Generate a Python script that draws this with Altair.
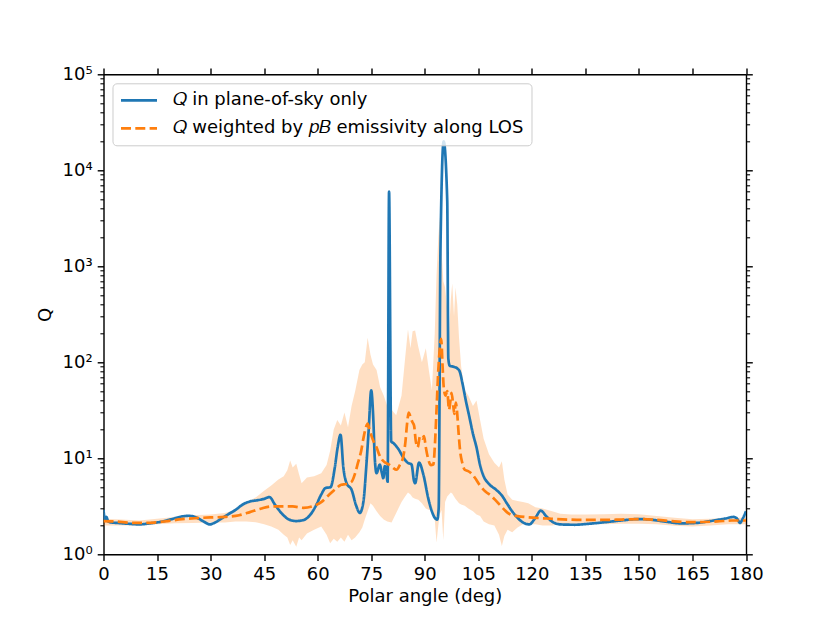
import altair as alt
import pandas as pd

# ---- data ----
blue_angle = [0, 0.4, 0.8, 1.3, 2, 4, 7, 10, 13, 16, 19, 22, 24, 26, 28, 29.8, 31, 33, 35, 37,
              39, 41, 43, 45, 46.5, 48, 50, 52, 54, 56, 58, 59.5, 61, 62.2, 63.6, 64.8, 65.6, 66.4,
              67.2, 68.1, 69.5, 70.8, 71.8, 72.8, 73.6, 74.3, 75.0, 75.6, 76.0, 76.5, 77.4, 78.0,
              78.4, 78.8, 79.2, 79.6, 80.0, 80.6, 81.2, 82.6, 84.0, 85.2, 86.3, 87.0, 87.3, 88.4,
              89.6, 91.0, 92.0, 92.8, 93.5, 93.9, 94.4, 95.3, 96.3, 96.6, 97.0, 98.0, 99.0, 99.8,
              100.5, 101.5, 102.5, 103.5, 104.5, 105.5, 106.5, 108, 110, 111.6, 113, 114.5, 116,
              117.5, 119.3, 121, 122.5, 124, 126, 128, 132, 136, 140, 145, 150, 153, 157, 162, 166,
              170, 174, 176.5, 177.5, 178.3, 179.2, 180]
blue_q = [2.9, 2.3, 2.45, 2.2, 2.15, 2.12, 2.08, 2.05, 2.1, 2.18, 2.32, 2.48, 2.52, 2.42, 2.2, 2.05,
          2.12, 2.35, 2.62, 2.9, 3.3, 3.55, 3.65, 3.78, 3.95, 3.3, 2.65, 2.3, 2.22, 2.27, 2.6, 3.2,
          4.2, 4.9, 5.0, 8, 13, 17.6, 8, 5.5, 4.7, 3.2, 2.7, 3.5, 8, 20, 51, 25, 10, 7, 8.6, 7.0,
          6.2, 8.3, 7.5, 5.7, 6000, 15, 14.4, 12.5, 10.2, 9.0, 8.6, 5.8, 5.5, 9.0, 6.8, 3.8, 2.8,
          2.4, 2.3, 3.0, 1500, 20000, 4800, 110, 92, 90, 87, 80, 62, 40, 27, 18, 13, 8.5, 6.5, 5.4,
          4.7, 4.1, 3.4, 2.8, 2.4, 2.15, 2.05, 2.4, 2.85, 2.5, 2.15, 2.05, 2.03, 2.08, 2.15, 2.25,
          2.33, 2.3, 2.2, 2.1, 2.12, 2.22, 2.35, 2.45, 2.35, 2.12, 2.4, 2.8]

mean_angle = [0, 3, 6, 10, 14, 18, 22, 26, 30, 34, 38, 41, 44, 47, 50, 53, 56, 59, 61, 63, 65,
              66.6, 68, 69.5, 70.5, 71.3, 72.2, 72.8, 73.5, 74.0, 74.5, 75.1, 76.0, 76.5, 77.2, 78,
              79, 80, 81, 82.1, 83, 84, 84.6, 85.0, 85.5, 86.0, 86.5, 87.0, 87.5, 88, 88.7, 89.3,
              89.8, 90.3, 91.0, 91.7, 92.4, 92.9, 93.3, 93.8, 94.3, 94.6, 95.0, 95.3, 95.8, 96.3,
              96.8, 97.2, 97.5, 98.0, 98.3, 98.7, 99.0, 99.5, 99.9, 100.5, 101.2, 102, 103, 104,
              105.5, 107, 108.5, 110, 111.6, 113, 114.5, 116, 118, 121, 125, 130, 135, 140, 145,
              150, 155, 160, 164, 168, 172, 176, 180]
mean_q = [2.22, 2.2, 2.15, 2.12, 2.14, 2.22, 2.32, 2.38, 2.42, 2.45, 2.55, 2.75, 2.98, 3.15, 3.15,
          3.15, 3.05, 3.2, 3.5, 4.1, 4.8, 5.3, 5.4, 5.7, 7, 9, 12, 16, 21, 23, 20, 17, 14, 13, 11,
          9.7, 9, 8.6, 8, 7.6, 8.5, 10.5, 15, 22, 30, 27, 24, 22, 15, 13, 17, 16, 17, 13, 9.7, 8.5,
          8.6, 15, 32, 83, 150, 175, 90, 56, 45, 50, 32, 40, 48, 35, 29, 38, 32, 18, 12, 9, 7.6,
          7.4, 7.0, 6.3, 5.2, 4.5, 4.1, 3.6, 3.1, 2.75, 2.55, 2.5, 2.45, 2.4, 2.35, 2.3, 2.28,
          2.28, 2.3, 2.33, 2.28, 2.2, 2.16, 2.17, 2.2, 2.25, 2.25]

band_angle = [0, 5, 10, 15, 20, 25, 30, 34, 37, 40, 43, 45, 47, 49, 50.5, 51.5, 52.3, 53, 54, 54.8,
              55.5, 57, 59, 61, 62.5, 63.5, 64.5, 65.5, 66.5, 67.5, 68.5, 69.5, 70.5, 71.7, 72.5,
              73.2, 74.0, 74.8, 75.5, 76.5, 77.5, 78.5, 79.5, 80.7, 82, 83.5, 84.5, 85.3, 86, 86.6,
              87.3, 88.2, 89.2, 90.3, 91.2, 92.0, 92.8, 93.3, 93.8, 94.2, 94.7, 95.2, 95.7, 96.3,
              96.8, 97.3, 97.7, 98.2, 98.6, 99.1, 99.6, 100.2, 101.2, 102.2, 103.5, 104.5, 105.5,
              106.5, 108, 109.5, 110.8, 111.6, 112.3, 113.2, 114.5, 116, 117.5, 119, 121, 123,
              125.7, 128, 131, 135, 140, 145, 150, 155, 160, 165, 170, 175, 180]
band_lo = [2.0, 2.0, 2.0, 2.05, 2.1, 2.12, 2.15, 2.15, 2.2, 2.2, 2.15, 2.05, 1.95, 1.8, 1.6, 1.5,
           1.25, 1.4, 1.2, 1.5, 1.4, 1.65, 1.8, 1.95, 1.6, 1.3, 1.45, 1.35, 1.5, 1.35, 1.6, 1.4,
           1.5, 1.7, 1.9, 2.3, 2.8, 3.4, 3.2, 2.8, 2.5, 2.3, 2.2, 2.15, 2.7, 3.5, 4.0, 4.4, 4.2,
           3.9, 3.8, 3.7, 3.4, 3.0, 2.9, 2.9, 2.3, 1.33, 2.0, 2.6, 2.9, 1.4, 3.5, 4.0, 4.2, 4.4,
           4.3, 4.0, 3.8, 3.6, 3.4, 3.3, 3.2, 3.0, 2.8, 2.6, 2.5, 2.2, 2.05, 2.0, 1.6, 1.22, 1.55,
           1.8, 1.7, 1.9, 2.05, 2.05, 2.05, 2.0, 2.0, 2.05, 2.05, 2.05, 2.05, 2.08, 2.08, 2.05,
           1.98, 1.95, 2.0, 2.05, 2.05]
band_hi = [2.35, 2.3, 2.25, 2.35, 2.45, 2.55, 2.6, 2.7, 2.9, 3.4, 4.0, 4.6, 5.2, 6.0, 6.5, 7.5,
           9.5, 8.0, 8.8, 6.8, 5.5, 6.3, 6.5, 7.0, 8.5, 12, 20, 25, 22, 30, 21, 35, 50, 83, 95,
           100, 180, 120, 95, 83, 55, 45, 35, 32, 28, 45, 110, 220, 140, 210, 215, 144, 100, 140,
           80, 51, 200, 800, 2000, 3200, 1500, 700, 600, 350, 200, 450, 660, 300, 600, 400, 180,
           90, 51, 45, 35, 40, 25, 16, 11, 9, 8, 9.3, 6, 4.2, 3.7, 3.6, 3.5, 3.4, 3.1, 3.0, 2.8,
           2.65, 2.6, 2.6, 2.62, 2.65, 2.62, 2.5, 2.4, 2.32, 2.35, 2.4, 2.4]

x_ticks = [0, 15, 30, 45, 60, 75, 90, 105, 120, 135, 150, 165, 180]
y_major = [1, 10, 100, 1000, 10000, 100000]
y_minor = [m * 10 ** k for k in range(5) for m in range(2, 10)]

LAB1 = "𝑄 in plane-of-sky only"
LAB2 = "𝑄 weighted by 𝑝𝐵 emissivity along LOS"

df_blue = pd.DataFrame({"angle": blue_angle, "Q": blue_q, "series": LAB1})
df_mean = pd.DataFrame({"angle": mean_angle, "Q": mean_q, "series": LAB2})
df_band = pd.DataFrame({"angle": band_angle, "lo": band_lo, "hi": band_hi})

FONT = "DejaVu Sans"
xscale = alt.Scale(domain=[0, 180], nice=False, zero=False)
yscale = alt.Scale(type="log", domain=[1, 100000], nice=False)
color_scale = alt.Scale(domain=[LAB1, LAB2], range=["#1f77b4", "#ff7f0e"])
dash_scale = alt.Scale(domain=[LAB1, LAB2], range=[[1, 0], [10, 4.3]])

base_axis = dict(domainColor="black", domainWidth=1.4, tickColor="black", tickWidth=1.4,
                 labelFont=FONT, labelFontSize=18, labelColor="black", grid=False,
                 titleFont=FONT, titleFontSize=18, titleFontWeight="normal", titleColor="black")

legend = alt.Legend(title=None, orient="top-left", offset=9, padding=7,
                    fillColor="rgba(255,255,255,0.8)", strokeColor="#cccccc", cornerRadius=4,
                    symbolType="stroke", symbolSize=1296, symbolStrokeWidth=2.7,
                    labelFont=FONT, labelFontSize=18, labelColor="black", labelLimit=0,
                    labelOffset=14, rowPadding=8, clipHeight=20)

band = alt.Chart(df_band).mark_area(color="#ff7f0e", opacity=0.25, clip=True).encode(
    x=alt.X("angle:Q", scale=xscale,
            axis=alt.Axis(orient="bottom", values=x_ticks, title="Polar angle (deg)",
                          tickSize=6.3, labelPadding=5, titlePadding=4, labelFlush=False,
                          **base_axis)),
    y=alt.Y("lo:Q", scale=yscale,
            axis=alt.Axis(orient="left", values=y_major, title="Q", tickSize=6.3,
                          labelPadding=5, titlePadding=8,
                          labelExpr="'10' + ['⁰','¹','²','³','⁴','⁵'][round(log(datum.value)/LN10)]",
                          **base_axis)),
    y2="hi:Q",
)

blue = alt.Chart(df_blue).mark_line(strokeWidth=2.7, clip=True, interpolate="monotone").encode(
    x=alt.X("angle:Q", scale=xscale,
            axis=alt.Axis(orient="top", values=x_ticks, labels=False, title=None, tickSize=6.3,
                          **base_axis)),
    y=alt.Y("Q:Q", scale=yscale,
            axis=alt.Axis(orient="right", values=y_major, labels=False, title=None, tickSize=6.3,
                          **base_axis)),
    color=alt.Color("series:N", scale=color_scale, legend=legend),
    strokeDash=alt.StrokeDash("series:N", scale=dash_scale, legend=legend),
)

mean = alt.Chart(df_mean).mark_line(strokeWidth=2.7, clip=True, interpolate="monotone").encode(
    x=alt.X("angle:Q", scale=xscale, axis=None),
    y=alt.Y("Q:Q", scale=yscale,
            axis=alt.Axis(orient="left", values=y_minor, labels=False, title=None, tickSize=3.6,
                          domain=False, tickColor="black", tickWidth=1.1, grid=False)),
    color=alt.Color("series:N", scale=color_scale, legend=legend),
    strokeDash=alt.StrokeDash("series:N", scale=dash_scale, legend=legend),
)

ghost = alt.Chart(df_mean).mark_point(opacity=0).encode(
    x=alt.X("angle:Q", scale=xscale, axis=None),
    y=alt.Y("Q:Q", scale=yscale,
            axis=alt.Axis(orient="right", values=y_minor, labels=False, title=None, tickSize=3.6,
                          domain=False, tickColor="black", tickWidth=1.1, grid=False)),
)

chart = alt.layer(band, blue, mean, ghost).resolve_axis(
    x="independent", y="independent"
).properties(
    width=642.5, height=480,
    padding={"left": 95.5, "top": 66.3, "right": 76, "bottom": 60},
    autosize=alt.AutoSizeParams(type="none"),
).configure_view(stroke=None).configure(font=FONT, background="white")

chart.save("out.html", embed_options={"renderer": "svg", "actions": False})
